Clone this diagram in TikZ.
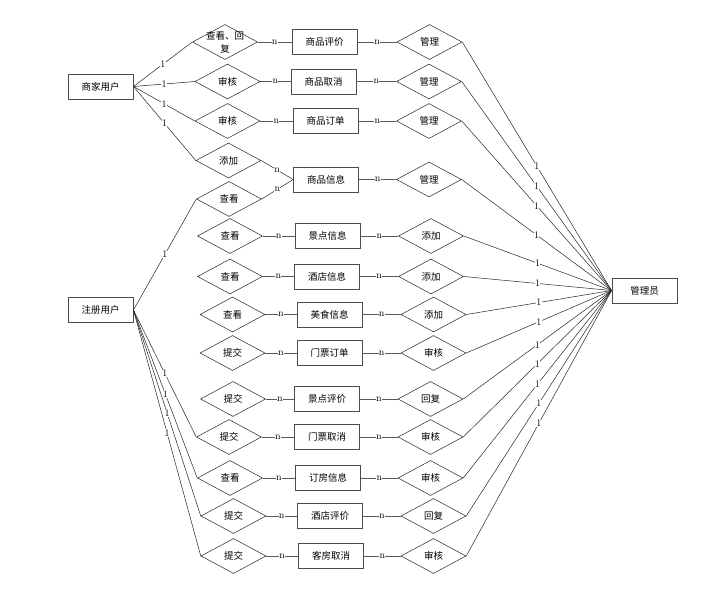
\documentclass[tikz,border=0pt]{standalone}
\usepackage{fontspec}
\newfontfamily\cjk{Noto Sans CJK SC}
\usetikzlibrary{shapes.geometric}
\begin{document}
\begin{tikzpicture}[x=1pt,y=-1pt,
  ent/.style={draw=black!70, line width=0.9pt, minimum width=65pt, minimum height=25pt, inner sep=0pt, font=\cjk\fontsize{9.5}{11}\selectfont},
  dia/.style={draw=black!85, line width=0.5pt, diamond, aspect=1.857, inner sep=0pt, minimum width=65pt, minimum height=35pt, font=\cjk\fontsize{9.5}{11}\selectfont},
  lk/.style={draw=black!85, line width=0.5pt},
  hk/.style={draw=black!65, line width=0.9pt},
  lbl/.style={fill=white, inner sep=0.3pt, font=\fontsize{10}{10}\selectfont}
]
\useasboundingbox (0,0) rectangle (705,608);
\fill[white] (0,0) rectangle (705,608);

% entities
\node[ent] (sj) at (100.5,86.5) {商家用户};
\node[ent] (zc) at (100.5,310) {注册用户};
\node[ent] (gl) at (644.5,290.5) {管理员};

% row 1
\node[dia] (l1) at (225,42) {};
\node[font=\cjk\fontsize{9.5}{13}\selectfont, align=center, inner sep=0pt] (l1t) at (l1) {查看、回\\复};
\node[ent] (r1) at (324.5,42) {商品评价};
\node[dia] (d1) at (429.5,42) {管理};
% row 2
\node[dia] (l2) at (227.5,81.5) {审核};
\node[ent] (r2) at (323.5,81.5) {商品取消};
\node[dia] (d2) at (429,81.5) {管理};
% row 3
\node[dia] (l3) at (227.5,121) {审核};
\node[ent] (r3) at (325.5,121) {商品订单};
\node[dia] (d3) at (429,121) {管理};
% row 4
\node[dia] (l4) at (228.5,160.5) {添加};
\node[ent] (r4) at (326,179.5) {商品信息};
\node[dia] (d4) at (429,179.5) {管理};
\node[dia] (l5) at (229,199) {查看};
% row 6
\node[dia] (l6) at (230,236) {查看};
\node[ent] (r6) at (327.5,236) {景点信息};
\node[dia] (d6) at (431,236) {添加};
% row 7
\node[dia] (l7) at (230,276.5) {查看};
\node[ent] (r7) at (327,276.5) {酒店信息};
\node[dia] (d7) at (431,276.5) {添加};
% row 8
\node[dia] (l8) at (232.5,314.5) {查看};
\node[ent] (r8) at (329.5,314.5) {美食信息};
\node[dia] (d8) at (433.5,314.5) {添加};
% row 9
\node[dia] (l9) at (232.5,353) {提交};
\node[ent] (r9) at (329.5,353) {门票订单};
\node[dia] (d9) at (433.5,353) {审核};
% row 10
\node[dia] (l10) at (233,399) {提交};
\node[ent] (r10) at (327,399) {景点评价};
\node[dia] (d10) at (430.5,399) {回复};
% row 11
\node[dia] (l11) at (229,437) {提交};
\node[ent] (r11) at (327,437) {门票取消};
\node[dia] (d11) at (430.5,437) {审核};
% row 12
\node[dia] (l12) at (230,478) {查看};
\node[ent] (r12) at (328,478) {订房信息};
\node[dia] (d12) at (430.5,478) {审核};
% row 13
\node[dia] (l13) at (233.5,516) {提交};
\node[ent] (r13) at (330,516) {酒店评价};
\node[dia] (d13) at (433.5,516) {回复};
% row 14
\node[dia] (l14) at (233.5,556) {提交};
\node[ent] (r14) at (331,556) {客房取消};
\node[dia] (d14) at (433.5,556) {审核};

% user links
\foreach \t in {l1,l2,l3,l4}
  \draw[lk] (sj.east) -- node[lbl]{1} (\t.west);
\foreach \t in {l5,l11,l12,l13,l14}
  \draw[lk] (zc.east) -- node[lbl]{1} (\t.west);

% n links
\foreach \a/\b in {1/1,2/2,3/3,6/6,7/7,8/8,9/9,10/10,11/11,12/12,13/13,14/14}
  \draw[hk] (l\a.east) -- node[lbl]{n} (r\b.west);
\draw[lk] (l4.east) -- node[lbl]{n} (r4.west);
\draw[lk] (l5.east) -- node[lbl]{n} (r4.west);
\foreach \a in {1,2,3,4,6,7,8,9,10,11,12,13,14}
  \draw[hk] (r\a.east) -- node[lbl]{n} (d\a.west);

% admin links
\foreach \a in {1,2,3,4,6,7,8,9,10,11,12,13,14}
  \draw[lk] (d\a.east) -- node[lbl]{1} (gl.west);
\end{tikzpicture}
\end{document}
